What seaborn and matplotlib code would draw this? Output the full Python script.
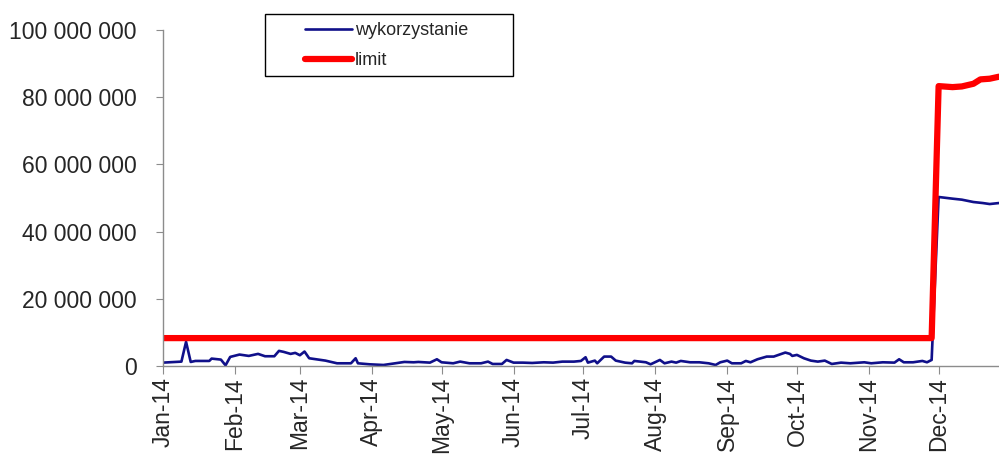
import pandas as pd
import seaborn as sns
import matplotlib
matplotlib.use("Agg")
from matplotlib import pyplot as plt
from matplotlib import dates as mdates
from matplotlib.patches import Rectangle
from matplotlib.ticker import FuncFormatter

# wykorzystanie (millions)
usage_dates = [
    "2014-01-01", "2014-01-09", "2014-01-11", "2014-01-13", "2014-01-15", "2014-01-21",
    "2014-01-22", "2014-01-26", "2014-01-28", "2014-01-30", "2014-02-03", "2014-02-07",
    "2014-02-11", "2014-02-14", "2014-02-18", "2014-02-20", "2014-02-22", "2014-02-25",
    "2014-02-27", "2014-03-01", "2014-03-03", "2014-03-05", "2014-03-10", "2014-03-12",
    "2014-03-17", "2014-03-23", "2014-03-25", "2014-03-26", "2014-03-31", "2014-04-06",
    "2014-04-11", "2014-04-15", "2014-04-19", "2014-04-21", "2014-04-26", "2014-04-29",
    "2014-05-01", "2014-05-06", "2014-05-09", "2014-05-13", "2014-05-18", "2014-05-21",
    "2014-05-23", "2014-05-27", "2014-05-29", "2014-06-01", "2014-06-05", "2014-06-09",
    "2014-06-14", "2014-06-18", "2014-06-22", "2014-06-27", "2014-06-30", "2014-07-02",
    "2014-07-03", "2014-07-06", "2014-07-07", "2014-07-10", "2014-07-13", "2014-07-15",
    "2014-07-19", "2014-07-22", "2014-07-23", "2014-07-28", "2014-07-30", "2014-08-03",
    "2014-08-05", "2014-08-08", "2014-08-10", "2014-08-12", "2014-08-16", "2014-08-20",
    "2014-08-24", "2014-08-27", "2014-08-29", "2014-09-01", "2014-09-03", "2014-09-07",
    "2014-09-09", "2014-09-11", "2014-09-14", "2014-09-18", "2014-09-21", "2014-09-26",
    "2014-09-28", "2014-09-29", "2014-10-01", "2014-10-04", "2014-10-07", "2014-10-10",
    "2014-10-13", "2014-10-16", "2014-10-20", "2014-10-24", "2014-10-30", "2014-11-02",
    "2014-11-07", "2014-11-12", "2014-11-14", "2014-11-16", "2014-11-20", "2014-11-24",
    "2014-11-26", "2014-11-28", "2014-12-01", "2014-12-07", "2014-12-11", "2014-12-16",
    "2014-12-20", "2014-12-23", "2014-12-27",
]
usage_values = [
    1.0, 1.3, 7.2, 1.2, 1.5, 1.5,
    2.2, 1.9, 0.2, 2.7, 3.4, 3.0,
    3.6, 2.9, 2.9, 4.5, 4.2, 3.6,
    3.9, 3.2, 4.3, 2.3, 1.8, 1.6,
    0.8, 0.8, 2.3, 0.8, 0.5, 0.3,
    0.8, 1.2, 1.1, 1.2, 1.0, 2.0,
    1.1, 0.8, 1.3, 0.8, 0.8, 1.3,
    0.6, 0.6, 1.8, 1.0, 1.0, 0.9,
    1.1, 1.0, 1.3, 1.3, 1.5, 2.6,
    1.0, 1.6, 0.8, 2.8, 2.8, 1.6,
    1.0, 0.8, 1.5, 1.1, 0.5, 1.8,
    0.8, 1.3, 1.0, 1.5, 1.1, 1.1,
    0.8, 0.3, 1.1, 1.6, 0.8, 0.8,
    1.5, 1.1, 2.0, 2.8, 2.8, 4.0,
    3.6, 3.0, 3.3, 2.3, 1.6, 1.3,
    1.6, 0.6, 1.0, 0.8, 1.1, 0.8,
    1.1, 1.0, 2.0, 1.1, 1.1, 1.5,
    1.1, 1.8, 50.3, 49.8, 49.5, 48.8,
    48.5, 48.2, 48.5,
]

# limit (millions)
limit_dates = ["2014-01-01", "2014-11-28", "2014-12-01", "2014-12-07", "2014-12-11",
               "2014-12-16", "2014-12-19", "2014-12-23", "2014-12-27"]
limit_values = [8.3, 8.3, 83.3, 83.0, 83.2, 84.0, 85.3, 85.5, 86.1]

y_ticks = [0, 20_000_000, 40_000_000, 60_000_000, 80_000_000, 100_000_000]


def build_frame(dates, values):
    return pd.DataFrame({"date": pd.to_datetime(dates),
                         "value": [v * 1_000_000 for v in values]})


def main():
    sns.set_style("white")
    plt.rcParams["font.family"] = ["Liberation Sans", "DejaVu Sans"]

    usage_df = build_frame(usage_dates, usage_values)
    limit_df = build_frame(limit_dates, limit_values)

    fig = plt.figure(figsize=(9.99, 4.58), dpi=100)
    ax = fig.add_axes([0.163, 0.2009, 0.837, 0.7336])

    sns.lineplot(data=usage_df, x="date", y="value", ax=ax, color="#10108a",
                 linewidth=1.9, label="wykorzystanie")
    sns.lineplot(data=limit_df, x="date", y="value", ax=ax, color="#ff0000",
                 linewidth=4.5, label="limit")

    ax.set_xlim(pd.Timestamp("2014-01-01"), pd.Timestamp("2014-12-27"))
    ax.set_ylim(0, 100_000_000)
    ax.set_yticks(y_ticks)
    ax.yaxis.set_major_formatter(FuncFormatter(lambda v, p: f"{v:,.0f}".replace(",", " ")))
    ax.xaxis.set_major_locator(mdates.MonthLocator())
    ax.xaxis.set_major_formatter(mdates.DateFormatter("%b-%y"))
    ax.set_xlabel("")
    ax.set_ylabel("")

    for side in ["top", "right"]:
        ax.spines[side].set_visible(False)
    for side in ["left", "bottom"]:
        ax.spines[side].set_color("#8c8c8c")
        ax.spines[side].set_linewidth(1.0)

    ax.tick_params(axis="y", direction="out", length=5, color="#8c8c8c",
                   labelsize=16.5, pad=14, left=True)
    ax.tick_params(axis="x", direction="out", length=6, color="#8c8c8c",
                   labelsize=16.5, pad=2, rotation=90, bottom=True)
    for lbl in ax.get_xticklabels():
        lbl.set_verticalalignment("top")

    # legend with a fixed-size box like the original
    fig.patches.append(Rectangle((265 / 999, 1 - 76 / 458), 248 / 999, 62 / 458,
                                 transform=fig.transFigure, fill=False,
                                 edgecolor="black", linewidth=1.0))
    leg = ax.legend(loc="upper left", bbox_to_anchor=(296 / 999, 1 - 13 / 458),
                    bbox_transform=fig.transFigure, frameon=False, fontsize=13,
                    handlelength=2.6, handletextpad=0.15, labelspacing=0.72,
                    borderpad=0.0)
    for line in leg.get_lines():
        line.set_solid_capstyle("round")

    plt.savefig("out.png", dpi=100)


if __name__ == "__main__":
    main()
